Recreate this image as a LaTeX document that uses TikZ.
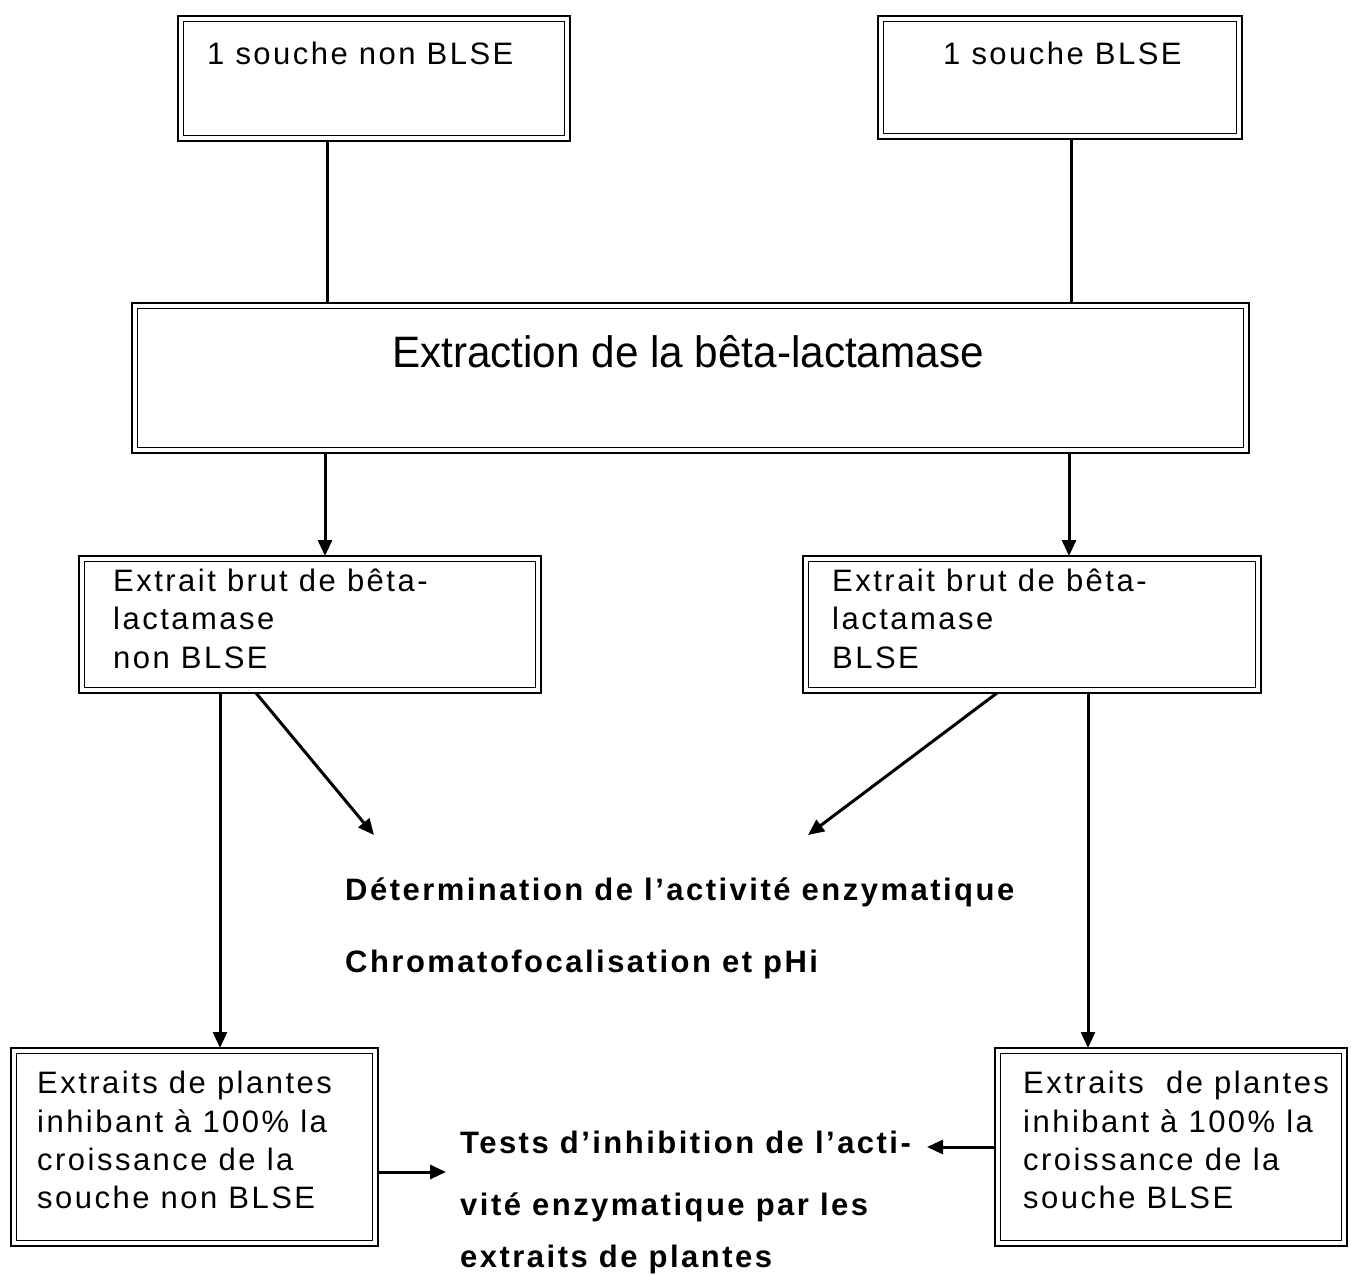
\documentclass[tikz,border=0pt]{standalone}
\usepackage{fontspec}
\usepackage{graphicx}
\usetikzlibrary{arrows.meta}
\newfontfamily\regf{Liberation Sans}[LetterSpace=8]
\newfontfamily\boldf{Liberation Sans Bold}[LetterSpace=8]
\newfontfamily\extf{Liberation Sans}
\newcommand\dbox[5]{%
  \node[outerbox, minimum width={#4-#2}, minimum height={#5-#3}, anchor=north west] (#1) at (#2,#3) {};
  \draw[innerline] ([xshift=5.5pt,yshift=-5.5pt]#1.north west) rectangle ([xshift=-5.5pt,yshift=5.5pt]#1.south east);}
\begin{document}
\begin{tikzpicture}[x=1pt,y=-1pt,
  outerbox/.style={draw, line width=2.6pt, inner sep=0pt, outer sep=0pt},
  innerline/.style={line width=1.6pt},
  conn/.style={line width=3pt},
  arr/.style={conn, -{Triangle[length=16pt,width=14pt]}},
  rt/.style={inner sep=0pt, anchor=base west, font=\regf\fontsize{31}{36}\selectfont},
  bt/.style={inner sep=0pt, anchor=base west, font=\boldf\fontsize{31}{36}\selectfont}]
\useasboundingbox (0,0) rectangle (1351,1274);
\fill[white] (0,0) rectangle (1351,1274);
% boxes
\dbox{b1}{178}{16}{570}{141}
\dbox{b2}{878}{16}{1242}{139}
\dbox{ext}{132}{303}{1249}{453}
\dbox{b3}{79}{556}{541}{693}
\dbox{b4}{803}{556}{1261}{693}
\dbox{b5}{11}{1048}{378}{1246}
\dbox{b6}{995}{1048}{1347}{1246}
% texts
\node[rt] (t1) at (207,64) {1 souche non BLSE};
\node[rt] (t2) at (943,64) {1 souche BLSE};
\node[inner sep=0pt, anchor=base, font=\extf\fontsize{44}{50}\selectfont] (te) at (688,367) {\scalebox{0.96}[1]{Extraction de la bêta-lactamase}};
\node[rt] (t3a) at (113,591) {Extrait brut de bêta-};
\node[rt] (t3b) at (113,629) {lactamase};
\node[rt] (t3c) at (113,668) {non BLSE};
\node[rt] (t4a) at (832,591) {Extrait brut de bêta-};
\node[rt] (t4b) at (832,629) {lactamase};
\node[rt] (t4c) at (832,668) {BLSE};
\node[bt] (d1) at (345,900) {Détermination de l’activité enzymatique};
\node[bt] (d2) at (345,972) {Chromatofocalisation et pHi};
\node[rt] (t5a) at (37,1093) {Extraits de plantes};
\node[rt] (t5b) at (37,1132) {inhibant à 100\% la};
\node[rt] (t5c) at (37,1170) {croissance de la};
\node[rt] (t5d) at (37,1208) {souche non BLSE};
\node[rt] (t6a) at (1023,1093) {Extraits\ \ de plantes};
\node[rt] (t6b) at (1023,1132) {inhibant à 100\% la};
\node[rt] (t6c) at (1023,1170) {croissance de la};
\node[rt] (t6d) at (1023,1208) {souche BLSE};
\node[bt] (r1) at (460,1153) {Tests d’inhibition de l’acti-};
\node[bt] (r2) at (460,1215) {vité enzymatique par les};
\node[bt] (r3) at (460,1267) {extraits de plantes};
% helper coordinates
\coordinate (xa) at (327,0);
\coordinate (xb) at (1071,0);
\coordinate (xc) at (325,0);
\coordinate (xd) at (1069,0);
\coordinate (xe) at (220,0);
\coordinate (xf) at (1088,0);
\coordinate (ya) at (0,1172);
\coordinate (yb) at (0,1147);
\coordinate (dl0) at (256,693);
\coordinate (dl1) at (374,835);
\coordinate (dr0) at (997,693);
\coordinate (dr1) at (808,835);
\coordinate (al) at (446,1172);
\coordinate (ar) at (927,1147);
% connectors
\draw[conn] (b1.south -| xa) -- (ext.north -| xa);
\draw[conn] (b2.south -| xb) -- (ext.north -| xb);
\draw[arr] (ext.south -| xc) -- (b3.north -| xc);
\draw[arr] (ext.south -| xd) -- (b4.north -| xd);
\draw[arr] (b3.south -| xe) -- (b5.north -| xe);
\draw[arr] (b4.south -| xf) -- (b6.north -| xf);
\draw[arr] (dl0) -- (dl1);
\draw[arr] (dr0) -- (dr1);
\draw[arr] (b5.east |- ya) -- (al);
\draw[arr] (b6.west |- yb) -- (ar);
\end{tikzpicture}
\end{document}
